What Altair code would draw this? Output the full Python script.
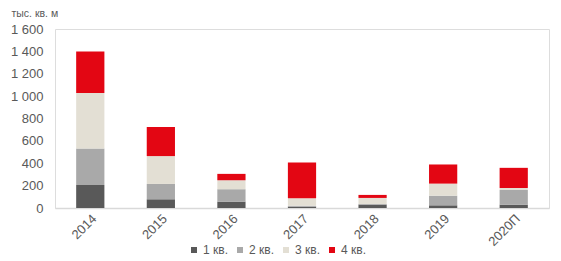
import altair as alt
import pandas as pd

years = ["2014", "2015", "2016", "2017", "2018", "2019", "2020П"]
quarters = ["1 кв.", "2 кв.", "3 кв.", "4 кв."]
q1 = [206, 78, 57, 12, 30, 24, 30]
q2 = [326, 137, 111, 8, 6, 86, 131]
q3 = [497, 249, 80, 67, 54, 108, 18]
q4 = [371, 260, 57, 319, 27, 171, 180]
colors = ["#595959", "#a9a9a9", "#e3dfd4", "#e30613"]
y_ticks = [0, 200, 400, 600, 800, 1000, 1200, 1400, 1600]

rows = []
for series, name in zip([q1, q2, q3, q4], quarters):
    for i, (yr, v) in enumerate(zip(years, series)):
        rows.append({"year": yr, "quarter": name, "value": v, "order": quarters.index(name)})
df = pd.DataFrame(rows)

font = "Liberation Sans"
chart = alt.Chart(df).mark_bar().encode(
    x=alt.X("year:N", sort=years, title=None,
            scale=alt.Scale(paddingInner=0.6, paddingOuter=0.3),
            axis=alt.Axis(labelAngle=-45, labelFontSize=13, labelColor="#595959",
                          labelFont=font, domainColor="#d9d9d9", domainWidth=1.5,
                          ticks=False, labelPadding=4)),
    y=alt.Y("value:Q", stack="zero", title="тыс.  кв. м",
            scale=alt.Scale(domain=[0, 1600], nice=False),
            axis=alt.Axis(values=y_ticks, grid=False, domain=False, ticks=False,
                          labelFontSize=13, labelColor="#595959", labelFont=font,
                          labelPadding=12,
                          labelExpr="replace(format(datum.value, ','), ',', ' ')",
                          titleAngle=0, titleX=-44, titleY=-16, titleAlign="left",
                          titleBaseline="middle",
                          titleFontSize=10.5, titleFontWeight="normal",
                          titleColor="#595959", titleFont=font)),
    color=alt.Color("quarter:N", sort=quarters,
                    scale=alt.Scale(domain=quarters, range=colors),
                    legend=alt.Legend(title=None, orient="none", direction="horizontal",
                                      legendX=133, legendY=215, symbolType="square",
                                      symbolSize=36, labelFontSize=12, labelColor="#595959",
                                      labelFont=font, columnPadding=6, labelOffset=3,
                                      symbolOpacity=1, symbolStrokeWidth=0)),
    order=alt.Order("order:Q", sort="ascending"),
).properties(
    width=494, height=179,
    autosize="none",
    padding={"left": 55, "top": 29, "right": 12, "bottom": 53},
).configure_view(stroke=None).configure(background="white")

chart.save("out.html", embed_options={"renderer": "svg", "actions": False})
